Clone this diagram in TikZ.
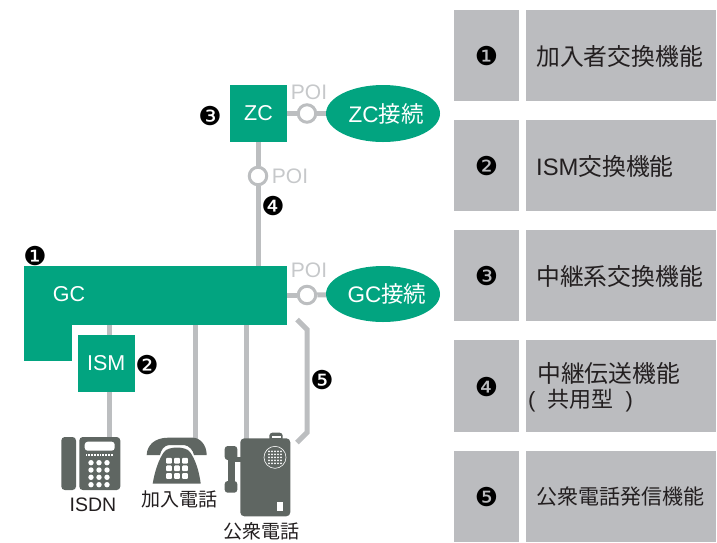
\documentclass[tikz,border=0pt]{standalone}
\usepackage{fontspec}
\setmainfont{Liberation Sans}
\newfontfamily\cjk{Noto Sans CJK JP}
\newfontfamily\dingfont{DejaVu Sans}
\definecolor{tblgray}{HTML}{BBBCBF}
\definecolor{grn}{HTML}{02A480}
\definecolor{linegray}{HTML}{BCBEC0}
\definecolor{poigray}{HTML}{C6C8CA}
\definecolor{phonegray}{HTML}{5F6662}
\definecolor{txt}{HTML}{231F20}
\newcommand{\fsz}[1]{\fontsize{#1}{#1}\selectfont}
\usetikzlibrary{shapes.geometric}
\tikzset{
  cell/.style={fill=tblgray,draw=none,inner sep=0pt,minimum height=#1},
  celltext/.style={anchor=west,inner sep=0pt,text=txt,font=\fsz{23.8}},
  ding/.style={inner sep=0pt,text=black,font=\dingfont\fsz{26}},
  box/.style={fill=grn,draw=none,inner sep=0pt,text=white,font=\fsz{21.5}},
  oval/.style={ellipse,fill=grn,draw=none,inner sep=0pt},
  ovaltext/.style={text=white,font=\fsz{22.5},inner sep=0pt},
  poi/.style={circle,draw=linegray,line width=3pt,fill=none,inner sep=0pt,minimum size=17.5pt},
  poitext/.style={inner sep=0pt,text=poigray,font=\fsz{21}},
  conn/.style={draw=linegray,line width=5pt},
  phonelabel/.style={inner sep=0pt,text=txt,font=\fsz{19}},
  ph/.style={fill=phonegray,draw=none},
  hole/.style={fill=white,draw=none}
}
\begin{document}
\begin{tikzpicture}[x=1pt,y=-1pt]
\useasboundingbox (0,0) rectangle (717,542);
% table
\foreach \yc/\hh/\n in {55.5/91/1,165.5/91/2,275.5/91/3,386/92/4,496.5/91/5}{
  \node[cell=\hh pt,minimum width=65.5pt] (num\n) at (486.5,\yc) {};
  \node[cell=\hh pt,minimum width=189.5pt] (desc\n) at (620.75,\yc) {};
}
\node[ding,yshift=-1pt] at (num1) {❶};
\node[ding,yshift=-1pt] at (num2) {❷};
\node[ding,yshift=-1pt] at (num3) {❸};
\node[ding,yshift=-1pt] at (num4) {❹};
\node[ding,yshift=-1pt] at (num5) {❺};
\node[celltext] (t1) at (536,56) {\cjk 加入者交換機能};
\node[celltext] (t2) at (536,166) {ISM\cjk 交換機能};
\node[celltext] (t3) at (536,276) {\cjk 中継系交換機能};
\node[celltext] (t4) at (537,373) {\cjk 中継伝送機能};
\node[celltext,font=\fsz{22}] (t4b) at (528,401) {(\hspace{12pt}{\cjk 共用型}\hspace{12pt})};
\node[celltext,font=\fsz{21}] (t5) at (536,497) {\cjk 公衆電話発信機能};
% main boxes
\node[box,minimum width=57pt,minimum height=57pt] (zc) at (258.5,113.5) {ZC};
\node[oval,minimum width=114pt,minimum height=57pt,label={[ovaltext,xshift=3pt]center:ZC{\cjk 接続}}] (zcx) at (383,113.5) {};
\node[poi] (p1) at (307,113.5) {};
\node[poi] (p2) at (258,176) {};
\node[poitext] (p1t) at (309,92) {POI};
\node[poitext] (p2t) at (290,176.5) {POI};
\node[box,minimum width=263.2pt,minimum height=59pt] (gc) at (155.1,295.5) {};
\node[box,minimum width=48.2pt,minimum height=36pt] (gcb) at (47.6,342.8) {};
\node[inner sep=0pt,text=white,font=\fsz{21.5}] (gct) at (69,294) {GC};
\node[oval,minimum width=114pt,minimum height=56pt,label={[ovaltext,xshift=4pt]center:GC{\cjk 接続}}] (gcx) at (383,294) {};
\node[poi] (p3) at (307,295) {};
\node[poitext] (p3t) at (309,270) {POI};
\node[box,minimum width=57pt,minimum height=57pt] (ism) at (106.2,363.3) {ISM};
% ding labels
\node[ding] (d1) at (35,256) {❶};
\node[ding] (d2) at (147,365) {❷};
\node[ding] (d3) at (210,116) {❸};
\node[ding] (d4) at (273,206) {❹};
\node[ding] (d5) at (322,380) {❺};
% connector ends
\coordinate (l1) at (109,438);
\coordinate (l2) at (195,439);
\coordinate (l3) at (246.5,440);
\coordinate (b1) at (297,319.5);
\coordinate (b2) at (307,329.5);
\coordinate (b3) at (307,432.5);
\coordinate (b4) at (297,442.5);
% connectors
\draw[conn] (zc) -- (p1);
\draw[conn] (p1) -- (zcx);
\draw[conn] (zc.south) -- (zc.south |- p2.north);
\draw[conn] (p2.south -| zc.south) -- (gc.north -| zc.south);
\draw[conn] (gc.east |- p3) -- (p3);
\draw[conn] (p3) -- (gcx);
\draw[conn] (gc.south -| l1) -- (ism.north -| l1);
\draw[conn] (ism.south -| l1) -- (l1);
\draw[conn] (gc.south -| l2) -- (l2);
\draw[conn] (gc.south -| l3) -- (l3);
\draw[conn,line join=miter] (b1) -- (b2) -- (b3) -- (b4);
% ISDN phone
\fill[ph,rounded corners=3.5pt] (61.3,437) rectangle (76,490);
\fill[ph,rounded corners=3.5pt] (79.3,437) rectangle (120.3,490);
\fill[hole,rounded corners=3pt] (84.7,441.7) rectangle (114.7,450.7);
\foreach \xx in {86.5,89.3,...,113}{\fill[hole] (\xx-0.9,454) rectangle (\xx+0.9,456);}
\foreach \xx in {91,99,107}{\foreach \yy in {462.7,470,477.3,484.7}{\fill[hole] (\xx,\yy) circle (2.7pt);}}
% desk phone
\fill[ph] (146.7,455) .. controls (147,445) and (155,437.7) .. (168,437.7) -- (193,437.7)
  .. controls (200,437.7) and (206.7,445) .. (206.7,455) -- (194,455)
  .. controls (193,450) and (189,445.5) .. (184,445) -- (169,445) .. controls (164,445.5) and (161,450) .. (160,455) -- cycle;
\fill[ph] (152.7,483.5) -- (200.7,483.5) .. controls (199,470) and (195,459) .. (190,452)
  .. controls (186,446) and (168,446) .. (164,452) .. controls (159,459) and (155,470) .. cycle;
\foreach \xx in {169,177,185}{\foreach \yy in {460.7,468.3,476}{\fill[hole,rounded corners=1pt] (\xx-2.9,\yy-2.9) rectangle (\xx+2.9,\yy+2.9);}}
% public phone
\fill[ph,rounded corners=3pt] (269.3,432.7) rectangle (282.7,442);
\fill[hole] (271.5,435.5) rectangle (280.5,438);
\fill[ph,rounded corners=4pt] (240.3,438.3) rectangle (290.3,516.3);
\fill[ph,rounded corners=3pt] (224.7,446) rectangle (237.3,460);
\fill[ph,rounded corners=3pt] (224.7,481) rectangle (237.3,492.7);
\fill[ph] (227.5,455) rectangle (235,485);
\fill[ph] (234,457) rectangle (241,462);
\draw[white,line width=0.6pt] (275,457.3) circle (11pt);
\foreach \xx in {-6,-3,0,3,6}{\foreach \yy in {-6,-3,0,3,6}{\fill[hole] (275+\xx,457.3+\yy) circle (1pt);}}
\fill[hole] (277,502) rectangle (282.7,510.7);
% phone labels
\node[phonelabel,font=\fsz{19.5}] (lb1) at (93,505) {ISDN};
\node[phonelabel] (lb2) at (179,499) {\cjk 加入電話};
\node[phonelabel] (lb3) at (261,531) {\cjk 公衆電話};
\end{tikzpicture}
\end{document}
